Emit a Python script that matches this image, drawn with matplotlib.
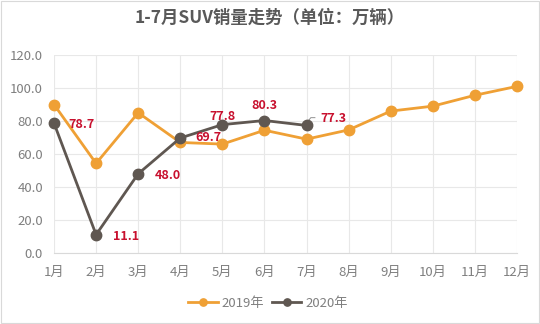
import matplotlib
matplotlib.use("Agg")
import matplotlib.pyplot as plt

plt.rcParams["font.family"] = ["Noto Sans CJK SC", "DejaVu Sans"]

# ---------------- data ----------------
months = ["1月", "2月", "3月", "4月", "5月", "6月", "7月", "8月", "9月", "10月", "11月", "12月"]
sales_2019 = [90.0, 54.3, 85.0, 67.0, 66.0, 74.4, 69.0, 74.6, 86.0, 89.0, 95.6, 101.0]
sales_2020 = [78.7, 11.1, 48.0, 69.7, 77.8, 80.3, 77.3]
y_ticks = [0, 20, 40, 60, 80, 100, 120]

c2019 = "#EFA035"
c2020 = "#5F5751"
label_color = "#C8102E"
grey = "#7F7F7F"

fig = plt.figure(figsize=(5.4, 3.24), dpi=100)
ax = fig.add_axes([54 / 540, 1 - 253 / 324, (517 - 54) / 540, (253 - 55) / 324])

x19 = list(range(len(sales_2019)))
x20 = list(range(len(sales_2020)))
ax.plot(x19, sales_2019, color=c2019, lw=2.0, marker="o", ms=7.5, label="2019年",
        zorder=3, clip_on=False)
ax.plot(x20, sales_2020, color=c2020, lw=2.0, marker="o", ms=7.5, label="2020年",
        zorder=4, clip_on=False)

# data labels for 2020 (offsets in points, ha)
offsets = [(10, -1, "left"), (12, -1, "left"), (12, -1, "left"), (11, 0, "left"),
           (0, 6, "center"), (0, 11, "center"), (10, 5, "left")]
for i, (v, (dx, dy, ha)) in enumerate(zip(sales_2020, offsets)):
    ax.annotate(f"{v:.1f}", (x20[i], v), xytext=(dx, dy), textcoords="offset points",
                ha=ha, va="center", color=label_color, fontsize=9, fontweight="bold", zorder=5)
# leader line for 77.3
ax.plot([6.03, 6.1, 6.2], [79.7, 82.0, 82.0], color=grey, lw=0.6, clip_on=False)

ax.set_xlim(0, len(months) - 1)
ax.set_ylim(0, 120)
ax.set_xticks(x19)
ax.set_xticklabels(months)
ax.set_yticks(y_ticks)
ax.set_yticklabels([f"{t:.1f}" for t in y_ticks])
ax.tick_params(axis="both", length=0, colors=grey, labelsize=9.5)
ax.tick_params(axis="x", pad=9)
ax.tick_params(axis="y", pad=8)
ax.grid(True, color="#E8E8E8", lw=0.8)
ax.set_axisbelow(True)
for side in ["top", "right", "left"]:
    ax.spines[side].set_visible(False)
ax.spines["bottom"].set_color("#D9D9D9")

fig.text(0.5, 1 - 18 / 324, "1-7月SUV销量走势（单位：万辆）", ha="center", va="center",
         fontsize=12.5, color="#595959", fontweight="bold")

fig.legend(loc="center", bbox_to_anchor=(268 / 540, 1 - 303 / 324), ncol=2, frameon=False,
           fontsize=9.5, labelcolor=grey, handlelength=2.2, handletextpad=0.3, columnspacing=0.6,
           markerscale=0.7)

fig.patches.append(plt.Rectangle((0.002, 0.003), 0.996, 0.994, transform=fig.transFigure,
                                 fill=False, edgecolor="#D9D9D9", lw=0.8))

fig.savefig("out.png", dpi=100)
